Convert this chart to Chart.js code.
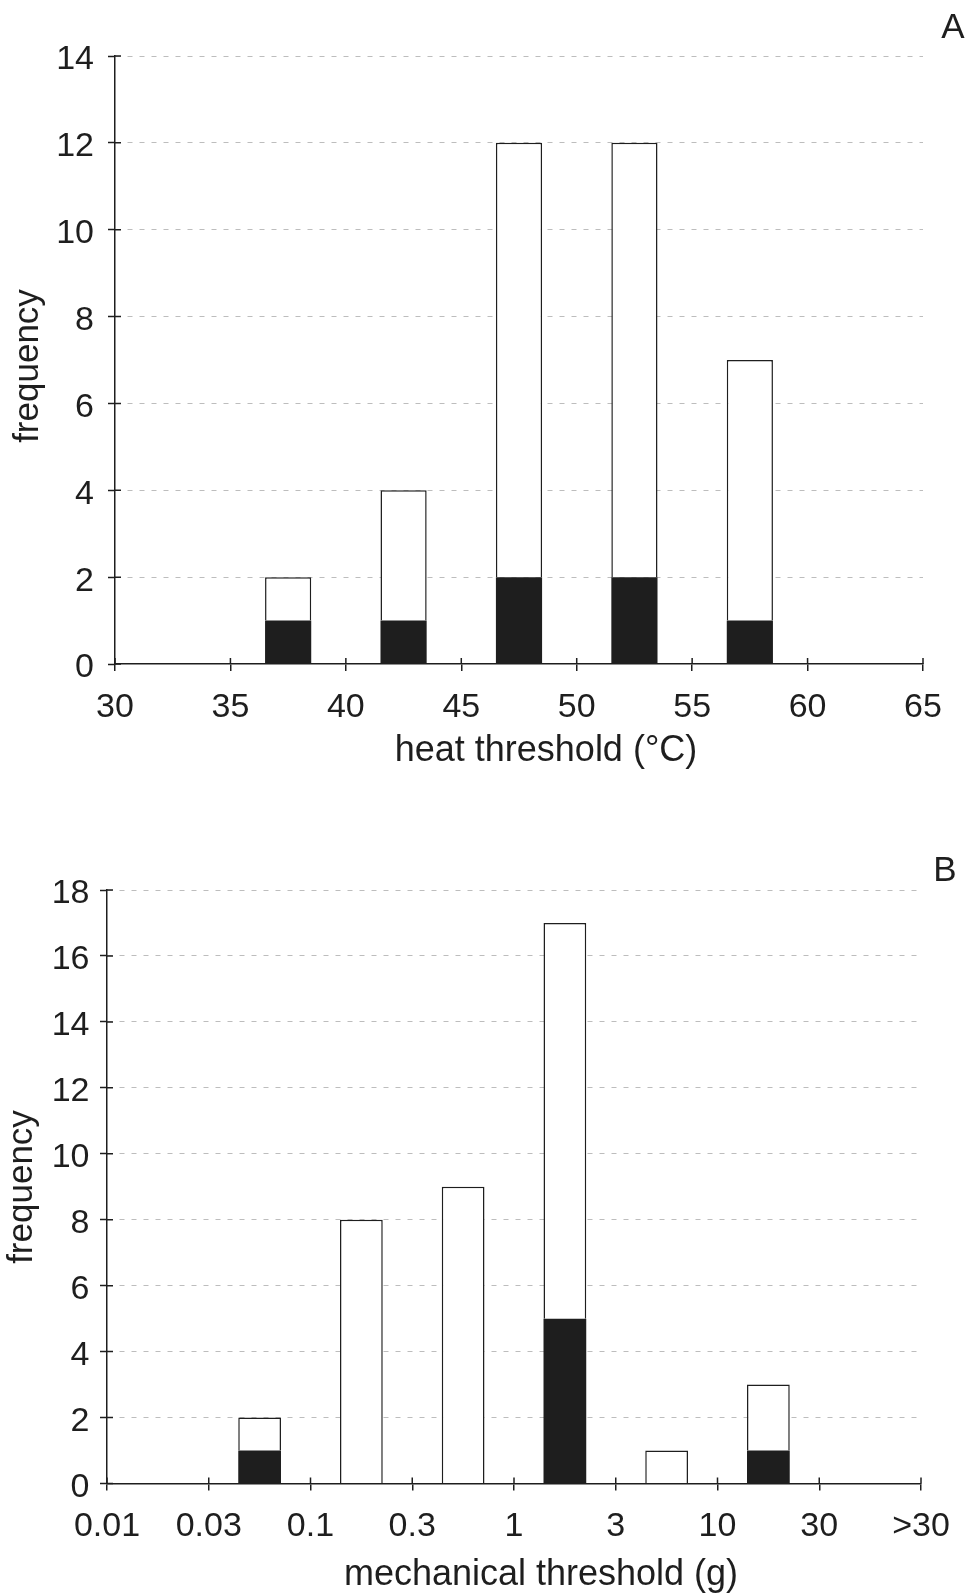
<!DOCTYPE html>
<html>
<head>
<meta charset="utf-8">
<title>Heat and mechanical thresholds</title>
<script src="https://cdn.jsdelivr.net/npm/chart.js@4.4.1/dist/chart.umd.min.js"></script>
<style>
  html, body { margin: 0; padding: 0; background: #fff; }
  #wrap { position: relative; width: 969px; height: 1594px; }
  canvas { position: absolute; left: 0; }
  #heatChart { top: 0; }
  #mechChart { top: 790px; }
</style>
</head>
<body>
<div id="wrap">
  <canvas id="heatChart" width="969" height="790"></canvas>
  <canvas id="mechChart" width="969" height="804"></canvas>
</div>
<script>
// Panel A: heat threshold (°C), bins of 5 degrees
const heatBinCentres = [37.5, 42.5, 47.5, 52.5, 57.5];
const heatTotal = [2, 4, 12, 12, 7];
const heatBlack = [1, 1, 2, 2, 1];

// Panel B: mechanical threshold (g), log-spaced bins
const mechTickLabels = ['0.01', '0.03', '0.1', '0.3', '1', '3', '10', '30', '>30'];
const mechBinStart = ['0.03', '0.1', '0.3', '1', '3', '10'];
const mechTotal = [2, 8, 9, 17, 1, 3];
const mechBlack = [1, 0, 0, 5, 0, 1];

const INK = '#1e1e1e';
Chart.defaults.font.family = '"Liberation Sans", Arial, Helvetica, sans-serif';
Chart.defaults.color = INK;

// inward half of the tick marks, plus the axis captions and panel letters
const figureText = {
  id: 'figureText',
  afterDraw(chart, args, opts) {
    const ctx = chart.ctx;
    const xs = chart.scales.x;
    const ys = chart.scales.y;
    ctx.save();
    ctx.strokeStyle = INK;
    ctx.lineWidth = 1.5;
    ctx.setLineDash([]);
    ctx.beginPath();
    ys.ticks.forEach(t => {
      const py = ys.getPixelForValue(t.value);
      ctx.moveTo(ys.right, py);
      ctx.lineTo(ys.right + 6, py);
    });
    xs.ticks.forEach(t => {
      const px = xs.getPixelForValue(t.value);
      ctx.moveTo(px, xs.top);
      ctx.lineTo(px, xs.top - 6);
    });
    ctx.stroke();
    ctx.fillStyle = INK;
    ctx.textAlign = 'center';
    ctx.textBaseline = 'middle';
    (opts.items || []).forEach(it => {
      ctx.save();
      ctx.translate(it.x, it.y);
      if (it.vertical) ctx.rotate(-Math.PI / 2);
      ctx.font = it.size + 'px ' + Chart.defaults.font.family;
      ctx.fillText(it.text, 0, 0);
      ctx.restore();
    });
    ctx.restore();
  }
};

function stackedBars(xs, total, black, width) {
  return [
    {
      label: 'black',
      data: xs.map((x, i) => ({ x: x, y: black[i] })),
      backgroundColor: INK,
      borderColor: INK,
      borderWidth: 0,
      barPercentage: width,
      categoryPercentage: 1
    },
    {
      label: 'white',
      data: xs.map((x, i) => ({ x: x, y: total[i] - black[i] })),
      backgroundColor: '#ffffff',
      borderColor: INK,
      borderWidth: 1.5,
      barPercentage: width,
      categoryPercentage: 1
    }
  ];
}

function buildOptions(cfg) {
  return {
    responsive: false,
    animation: false,
    devicePixelRatio: 1,
    layout: { padding: { top: cfg.padTop, right: cfg.padRight, left: 0, bottom: 0 } },
    plugins: {
      legend: { display: false },
      tooltip: { enabled: false },
      figureText: { items: cfg.labels }
    },
    scales: {
      x: {
        type: 'linear',
        stacked: true,
        offset: false,
        min: cfg.xMin,
        max: cfg.xMax,
        ticks: {
          stepSize: cfg.xStep,
          padding: cfg.xPad,
          autoSkip: false,
          maxRotation: 0,
          font: { size: 34 },
          color: INK,
          callback: cfg.xCallback
        },
        grid: { offset: false, drawOnChartArea: false, tickLength: 7, color: INK, lineWidth: 1.5 },
        border: { color: INK, width: 1.5 },
        afterFit: s => { s.height = cfg.xHeight; }
      },
      y: {
        stacked: true,
        min: 0,
        max: cfg.yMax,
        ticks: { stepSize: 2, padding: cfg.yPad, labelOffset: 4, font: { size: 34 }, color: INK },
        grid: {
          color: c => (c.tick && c.tick.value === 0) ? 'rgba(0,0,0,0)' : '#bdbdbd',
          lineWidth: 1,
          tickColor: INK,
          tickWidth: 1.5,
          tickBorderDash: [],
          tickLength: 7
        },
        border: { color: INK, width: 1.5, dash: [5, 7] },
        afterFit: s => { s.width = cfg.yWidth; }
      }
    }
  };
}

// Panel A
new Chart(document.getElementById('heatChart'), {
  type: 'bar',
  data: { datasets: stackedBars(heatBinCentres, heatTotal, heatBlack, 0.4) },
  options: buildOptions({
    padTop: 56, padRight: 46,
    xMin: 30, xMax: 65, xStep: 5, xPad: 16, xHeight: 126,
    xCallback: v => String(v),
    yMax: 14, yPad: 14, yWidth: 115,
    labels: [
      { text: 'frequency', x: 28, y: 366, size: 35, vertical: true },
      { text: 'heat threshold (°C)', x: 546, y: 751, size: 36 },
      { text: 'A', x: 953, y: 28, size: 35 }
    ]
  }),
  plugins: [figureText]
});

// Panel B: bars sit between the tick that starts the bin and the next one
const mechBinPos = mechBinStart.map(s => mechTickLabels.indexOf(s) + 0.5);

new Chart(document.getElementById('mechChart'), {
  type: 'bar',
  data: { datasets: stackedBars(mechBinPos, mechTotal, mechBlack, 0.42) },
  options: buildOptions({
    padTop: 100, padRight: 48,
    xMin: 0, xMax: mechTickLabels.length - 1, xStep: 1, xPad: 16, xHeight: 110.5,
    xCallback: v => mechTickLabels[v],
    yMax: 18, yPad: 10.5, yWidth: 107,
    labels: [
      { text: 'frequency', x: 22, y: 397, size: 35, vertical: true },
      { text: 'mechanical threshold (g)', x: 541, y: 785, size: 36 },
      { text: 'B', x: 945, y: 81, size: 35 }
    ]
  }),
  plugins: [figureText]
});
</script>
</body>
</html>
